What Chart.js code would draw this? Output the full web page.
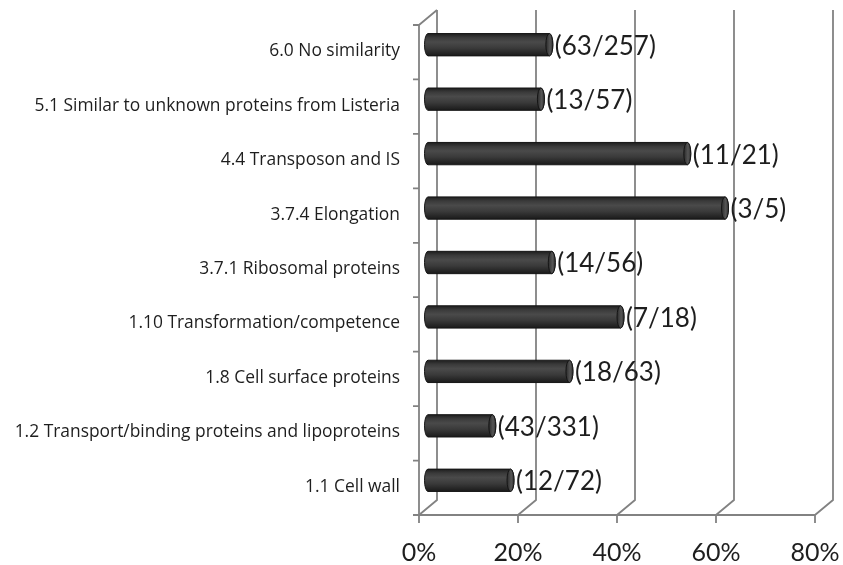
<!DOCTYPE html>
<html>
<head>
<meta charset="utf-8">
<script src="https://cdn.jsdelivr.net/npm/chart.js@4.4.1/dist/chart.umd.min.js"></script>
<style>
  html, body { margin: 0; padding: 0; background: #ffffff; }
  #wrap { width: 843px; height: 565px; }
</style>
</head>
<body>
<div id="wrap"><canvas id="c" width="843" height="565"></canvas></div>
<script>
// Functional categories, listed top to bottom
const categories = [
  '6.0 No similarity',
  '5.1 Similar to unknown proteins from Listeria',
  '4.4 Transposon and IS',
  '3.7.4 Elongation',
  '3.7.1 Ribosomal proteins',
  '1.10 Transformation/competence',
  '1.8 Cell surface proteins',
  '1.2 Transport/binding proteins and lipoproteins',
  '1.1 Cell wall'
];
// Genes found / genes in category
const found = [63, 13, 11, 3, 14, 7, 18, 43, 12];
const total = [257, 57, 21, 5, 56, 18, 63, 331, 72];
const xTicks = [0, 20, 40, 60, 80];

const percent = found.map((f, i) => f / total[i] * 100);
const valueLabels = found.map((f, i) => '(' + f + '/' + total[i] + ')');

// 3D depth: the bars sit on the middle plane; the front and back walls are offset from it
const DX = 9, DY = 7.5;
const FRAME = '#828282';
const TEXT = '#1e1e1e';
const FONT = 'Lato, "Open Sans", sans-serif';
const CAT_FONT = '"Open Sans", Lato, sans-serif';

function barGradient(chart, y, h) {
  if (!isFinite(y) || !isFinite(h) || h <= 0) return '#3c3c3c';
  const g = chart.ctx.createLinearGradient(0, y - h / 2, 0, y + h / 2);
  g.addColorStop(0.0, '#1e1e1e');
  g.addColorStop(0.18, '#3a3a3a');
  g.addColorStop(0.38, '#4a4a4a');
  g.addColorStop(0.65, '#3a3a3a');
  g.addColorStop(1.0, '#1a1a1a');
  return g;
}

// Walls, floor, axis lines and tick marks in perspective
const frame3d = {
  id: 'frame3d',
  beforeDatasetsDraw(chart) {
    const { ctx, chartArea: a, scales } = chart;
    const xs = scales.x;
    ctx.save();
    ctx.strokeStyle = FRAME;
    ctx.lineWidth = 1.8;
    const top = a.top, bot = a.bottom;
    xTicks.forEach(v => {
      const px = xs.getPixelForValue(v);
      ctx.beginPath();
      // back wall gridline
      ctx.moveTo(px + DX, top - DY);
      ctx.lineTo(px + DX, bot - DY);
      // floor diagonal
      ctx.lineTo(px - DX, bot + DY);
      // tick mark below the front edge
      ctx.lineTo(px - DX, bot + DY + 8);
      ctx.stroke();
    });
    const x0 = xs.getPixelForValue(0) - DX;
    const x1 = xs.getPixelForValue(xTicks[xTicks.length - 1]) - DX;
    ctx.beginPath();
    // front horizontal axis
    ctx.moveTo(x0, bot + DY);
    ctx.lineTo(x1, bot + DY);
    ctx.stroke();
    ctx.beginPath();
    // front vertical axis and top edge of the side wall
    ctx.moveTo(x0, bot + DY);
    ctx.lineTo(x0, top + DY);
    ctx.lineTo(x0 + 2 * DX, top - DY);
    ctx.stroke();
    // category tick marks
    const n = categories.length;
    const step = (bot - top) / n;
    ctx.beginPath();
    for (let k = 0; k <= n; k++) {
      const yy = top + k * step + DY;
      ctx.moveTo(x0 - 6, yy);
      ctx.lineTo(x0, yy);
    }
    ctx.stroke();
    ctx.restore();
  },
  afterDatasetsDraw(chart) {
    const { ctx } = chart;
    const meta = chart.getDatasetMeta(0);
    ctx.save();
    meta.data.forEach((el, i) => {
      const h = el.height, y = el.y, xb = el.base, xe = el.x;
      const rx = 3.5;
      // left rounded end
      ctx.beginPath();
      ctx.ellipse(xb, y, rx, h / 2, 0, Math.PI / 2, Math.PI * 1.5);
      ctx.closePath();
      ctx.fillStyle = barGradient(chart, y, h);
      ctx.fill();
      // outline of the cylinder body
      ctx.beginPath();
      ctx.ellipse(xb, y, rx, h / 2, 0, Math.PI / 2, Math.PI * 1.5);
      ctx.lineTo(xe, y - h / 2);
      ctx.ellipse(xe, y, rx, h / 2, 0, -Math.PI / 2, Math.PI / 2);
      ctx.closePath();
      ctx.strokeStyle = '#161616';
      ctx.lineWidth = 1;
      ctx.stroke();
      // right end cap
      const cap = ctx.createLinearGradient(xe - rx, 0, xe + rx, 0);
      cap.addColorStop(0, '#2a2a2a');
      cap.addColorStop(0.6, '#555555');
      cap.addColorStop(1, '#333333');
      ctx.beginPath();
      ctx.ellipse(xe, y, rx, h / 2, 0, 0, Math.PI * 2);
      ctx.fillStyle = cap;
      ctx.fill();
      ctx.strokeStyle = '#151515';
      ctx.stroke();
      // value label
      ctx.fillStyle = TEXT;
      ctx.font = '26px ' + FONT;
      ctx.textAlign = 'left';
      ctx.textBaseline = 'middle';
      ctx.fillText(valueLabels[i], xe + rx + 2, y + 1.5);
    });
    ctx.restore();
  }
};

function noEdgePadding(s) {
  s.paddingLeft = 0; s.paddingRight = 0; s.paddingTop = 0; s.paddingBottom = 0;
}

new Chart(document.getElementById('c'), {
  type: 'bar',
  data: {
    labels: categories,
    datasets: [{
      data: percent,
      backgroundColor: (c) => {
        const ys = c.chart.scales.y;
        if (!ys) return '#3c3c3c';
        const y = ys.getPixelForValue(c.dataIndex);
        const h = (ys.bottom - ys.top) / categories.length * 0.41;
        return barGradient(c.chart, y, h);
      },
      borderWidth: 0,
      categoryPercentage: 1,
      barPercentage: 0.41
    }]
  },
  options: {
    indexAxis: 'y',
    responsive: false,
    animation: false,
    devicePixelRatio: 1,
    layout: { padding: { left: 0, right: 19, top: 17.5, bottom: 0 } },
    plugins: { legend: { display: false }, tooltip: { enabled: false } },
    scales: {
      x: {
        min: 0, max: 80,
        afterBuildTicks(s) { s.ticks = xTicks.map(v => ({ value: v })); },
        afterFit(s) { s.height = 57.5; noEdgePadding(s); },
        grid: { display: false, drawTicks: false },
        border: { display: false },
        ticks: {
          callback: (v) => v + '%',
          color: TEXT,
          font: { family: FONT, size: 25 },
          padding: 30,
          labelOffset: -DX,
          maxRotation: 0
        }
      },
      y: {
        afterFit(s) { s.width = 428; noEdgePadding(s); },
        grid: { display: false, drawTicks: false },
        border: { display: false },
        ticks: {
          color: TEXT,
          font: { family: CAT_FONT, size: 17.4 },
          padding: 28,
          labelOffset: DY - 1,
          autoSkip: false
        }
      }
    }
  },
  plugins: [frame3d]
});
</script>
</body>
</html>
